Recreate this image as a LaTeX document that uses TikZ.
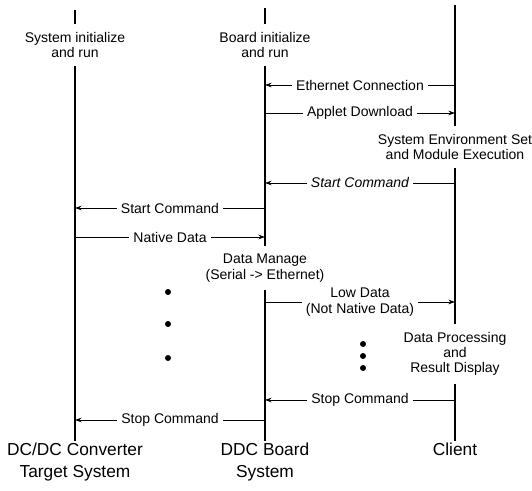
\documentclass[tikz,border=0pt]{standalone}
\usepackage{fontspec}
\setmainfont{Liberation Sans}
\usetikzlibrary{arrows.meta}
\tikzset{
  life/.style={line width=1.5pt},
  msg/.style={line width=0.6pt,-{Stealth[length=5pt,width=3.5pt]}},
  msglbl/.style={fill=white,align=center,inner xsep=3pt,inner ysep=1pt,font=\fontsize{10.5}{11.5}\selectfont},
  note/.style={align=center,inner xsep=0pt,inner ysep=6pt,font=\fontsize{10.5}{11.5}\selectfont},
  role/.style={align=center,anchor=north,inner sep=1pt,font=\fontsize{13}{17}\selectfont},
  dot/.style={circle,fill,inner sep=0pt,minimum size=4.5pt}
}
\begin{document}
\begin{tikzpicture}[x=0.75pt,y=-0.75pt]
\useasboundingbox (0,0) rectangle (532,491);
\coordinate (tgttop) at (75,10);
\coordinate (ddctop) at (265,8);
\coordinate (clttop) at (455,5);
\node[note] (tgtinit) at (75,45) {System initialize\\and run};
\node[note] (ddcinit) at (265,45) {Board initialize\\and run};
\node[note] (cltenv) at (455,147) {System Environment Set\\and Module Execution};
\node[note] (ddcman) at (265,268) {Data Manage\\(Serial -> Ethernet)};
\node[note] (cltproc) at (455,354) {Data Processing\\and\\Result Display};
\node[role] (tgt) at (75,441) {DC/DC Converter\\Target System};
\node[role] (ddc) at (265,441) {DDC Board\\System};
\node[role] (clt) at (455,441) {Client};
\draw[life] (tgttop) -- (tgtinit) -- (tgt);
\draw[life] (ddctop) -- (ddcinit) -- (ddcman) -- (ddc);
\draw[life] (clttop) -- (cltenv) -- (cltproc) -- (clt);
\coordinate (c1) at (455,85);
\coordinate (d1) at (265,85);
\coordinate (d2) at (265,113);
\coordinate (c2) at (455,113);
\coordinate (c3) at (455,183);
\coordinate (d3) at (265,183);
\coordinate (d4) at (265,208);
\coordinate (t4) at (75,208);
\coordinate (t5) at (75,237);
\coordinate (d5) at (265,237);
\coordinate (d6) at (265,302);
\coordinate (c6) at (455,302);
\coordinate (c7) at (455,400);
\coordinate (d7) at (265,400);
\coordinate (d8) at (265,420);
\coordinate (t8) at (75,420);
\draw[msg] (c1) -- node[msglbl] {Ethernet Connection} (d1);
\draw[msg] (d2) -- node[msglbl] {Applet Download} (c2);
\draw[msg] (c3) -- node[msglbl] {\itshape Start Command} (d3);
\draw[msg] (d4) -- node[msglbl] {Start Command} (t4);
\draw[msg] (t5) -- node[msglbl] {Native Data} (d5);
\draw[msg] (d6) -- node[msglbl] {Low Data\\(Not Native Data)} (c6);
\draw[msg] (c7) -- node[msglbl] {Stop Command} (d7);
\draw[msg] (d8) -- node[msglbl] {Stop Command} (t8);
\node[dot] (lv1) at (168,292) {};
\node[dot] (lv2) at (168,324) {};
\node[dot] (lv3) at (168,358) {};
\node[dot] (rv1) at (363,344) {};
\node[dot] (rv2) at (363,356) {};
\node[dot] (rv3) at (363,368) {};
\end{tikzpicture}
\end{document}
